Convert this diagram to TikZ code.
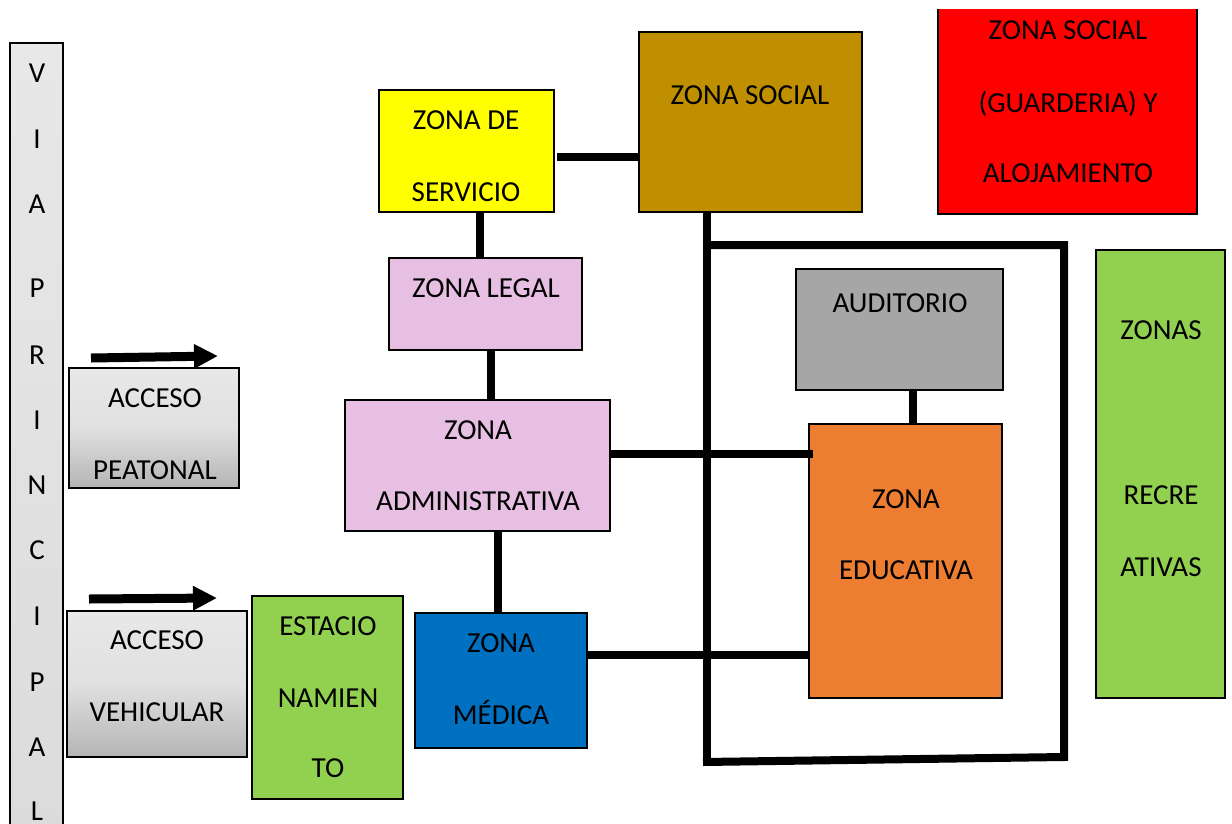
\documentclass[tikz,border=0pt]{standalone}
\usepackage{fontspec}
\setmainfont{Carlito}
\usetikzlibrary{arrows.meta,calc}
\definecolor{cpink}{HTML}{E6BFE2}
\definecolor{cbrown}{HTML}{BF8F00}
\definecolor{cyel}{HTML}{FFFF00}
\definecolor{cred}{HTML}{FF0000}
\definecolor{cblue}{HTML}{0070C0}
\definecolor{corange}{HTML}{ED7D31}
\definecolor{cgreen}{HTML}{92D050}
\definecolor{cgray}{HTML}{A6A6A6}
\definecolor{clight}{HTML}{E8E8E8}
\definecolor{cdark}{HTML}{B4B4B4}
\tikzset{
  zbox/.style={draw=black, line width=2.2pt, inner sep=0pt, rectangle},
  gbox/.style={zbox, top color=clight, bottom color=cdark, middle color=clight!85!cdark},
  txt/.style={font=\fontsize{29}{35}\selectfont, inner sep=0pt, anchor=base},
  conn/.style={line width=8pt, black},
  acc/.style={line width=9pt, -{Triangle[length=24pt,width=23pt]}},
}
\begin{document}
\begin{tikzpicture}[x=1pt,y=-1pt]
\useasboundingbox[fill=white] (0,0) rectangle (1232,823);
% boxes
\node[zbox, top color=clight, bottom color=clight!75!cdark, minimum width=53pt, minimum height=800pt] (via) at (36.5,443) {};
\node[gbox, minimum width=170pt, minimum height=120pt] (peat) at (154,428) {};
\node[gbox, minimum width=180pt, minimum height=146pt] (vehi) at (157,684) {};
\node[zbox, fill=cgreen, minimum width=151pt, minimum height=203pt] (estac) at (327.5,697.5) {};
\node[zbox, fill=cyel, minimum width=175pt, minimum height=122pt] (serv) at (466.5,151) {};
\node[zbox, fill=cbrown, minimum width=223pt, minimum height=180pt] (social) at (750.5,122) {};
\node[inner sep=0pt, fill=cred, minimum width=259pt, minimum height=205pt] (guard) at (1067.5,111.5) {};
\draw[line width=2.2pt] (guard.north west) -- (guard.south west) -- (guard.south east) -- (guard.north east);
\node[zbox, fill=cpink, minimum width=193pt, minimum height=92pt] (legal) at (485.5,304) {};
\node[zbox, fill=cpink, minimum width=265pt, minimum height=131pt] (admin) at (477.5,465.5) {};
\node[zbox, fill=cblue, minimum width=172pt, minimum height=135pt] (medica) at (501,680.5) {};
\node[zbox, fill=cgray, minimum width=207pt, minimum height=121pt] (audit) at (899.5,329.5) {};
\node[zbox, fill=corange, minimum width=193pt, minimum height=274pt] (educ) at (905.5,561) {};
\node[zbox, fill=cgreen, minimum width=129pt, minimum height=448pt] (recre) at (1160.5,474) {};
% texts
\foreach \l/\y [count=\i] in {V/73,I/139,A/204,P/288,R/355,I/420,N/485,C/550,I/616,P/682,A/747,L/811}
  \node[txt] (via\i) at (37,\y+9.5) {\l};
\node[txt] (peat1) at (155,407.5) {ACCESO};
\node[txt] (peat2) at (155,479) {PEATONAL};
\node[txt] (vehi1) at (157,649.5) {ACCESO};
\node[txt] (vehi2) at (157,721.5) {VEHICULAR};
\node[txt] (estac1) at (328,635.5) {ESTACIO};
\node[txt] (estac2) at (328,707.5) {NAMIEN};
\node[txt] (estac3) at (328,777.5) {TO};
\node[txt] (serv1) at (466,129.5) {ZONA DE};
\node[txt] (serv2) at (466,201.5) {SERVICIO};
\node[txt] (social1) at (750,104.5) {ZONA SOCIAL};
\node[txt] (guard1) at (1068,39.5) {ZONA SOCIAL};
\node[txt] (guard2) at (1068,112.5) {(GUARDERIA) Y};
\node[txt] (guard3) at (1068,182.5) {ALOJAMIENTO};
\node[txt] (legal1) at (486,297.5) {ZONA LEGAL};
\node[txt] (admin1) at (478,439.5) {ZONA};
\node[txt] (admin2) at (478,510.5) {ADMINISTRATIVA};
\node[txt] (medica1) at (501,652.5) {ZONA};
\node[txt] (medica2) at (501,724.5) {MÉDICA};
\node[txt] (audit1) at (900,312.5) {AUDITORIO};
\node[txt] (educ1) at (906,508.5) {ZONA};
\node[txt] (educ2) at (906,579.5) {EDUCATIVA};
\node[txt] (recre1) at (1161,339.5) {ZONAS};
\node[txt] (recre2) at (1161,504.5) {RECRE};
\node[txt] (recre3) at (1161,576.5) {ATIVAS};
% coordinates of the open frame
\coordinate (ftl) at (707,245);
\coordinate (ftr) at (1064,245);
\coordinate (fbr) at (1064,757);
\coordinate (fbl) at (707,762);
\coordinate (sv) at (557,157);
\coordinate (lx) at (480,0);
\coordinate (ax) at (491,0);
\coordinate (mx) at (498,0);
\coordinate (ay) at (0,454);
\coordinate (my) at (0,655);
\coordinate (ux) at (913,0);
% connectors
\draw[conn] (sv) -- (sv -| social.west);
\draw[conn] (serv.south -| lx) -- (legal.north -| lx);
\draw[conn] (legal.south -| ax) -- (admin.north -| ax);
\draw[conn] (admin.south -| mx) -- (medica.north -| mx);
\draw[conn] (admin.east |- ay) -- ([xshift=5pt]educ.west |- ay);
\draw[conn] (medica.east |- my) -- (educ.west |- my);
\draw[conn] (audit.south -| ux) -- (educ.north -| ux);
\draw[conn] (social.south -| fbl) -- (fbl);
\draw[conn, line join=miter] (ftl) -- (ftr) -- (fbr) -- ([xshift=-4pt]fbl);
% arrows
\coordinate (pa) at (91,358);
\coordinate (pb) at (218,356);
\coordinate (va) at (89,599);
\coordinate (vb) at (217,598);
\draw[acc] (pa) -- (pb);
\draw[acc] (va) -- (vb);
\end{tikzpicture}
\end{document}
